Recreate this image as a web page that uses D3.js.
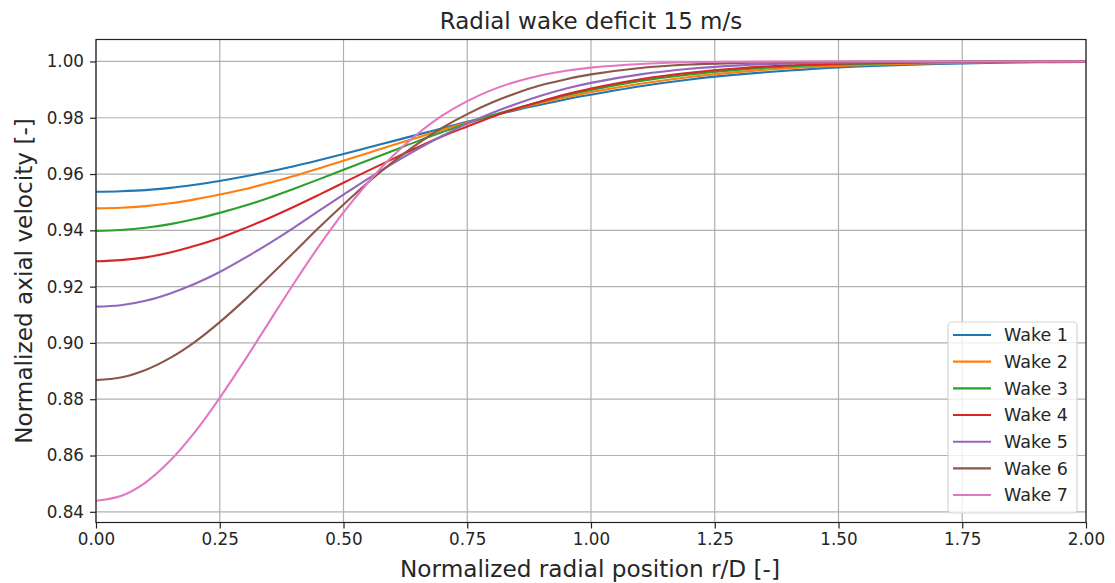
<!DOCTYPE html>
<html>
<head>
<meta charset="utf-8">
<script src="https://cdn.jsdelivr.net/npm/d3@7"></script>
<style>
  html, body { margin: 0; padding: 0; background: #fff; }
  text { font-family: "DejaVu Sans", sans-serif; fill: #262626; }
</style>
</head>
<body>
<svg id="chart" width="1115" height="583"></svg>
<script>
const radius = [0,0.05,0.1,0.15,0.2,0.25,0.3,0.35,0.4,0.45,0.5,0.55,0.6,0.65,0.7,0.75,0.8,0.85,0.9,0.95,1.0,1.1,1.2,1.3,1.4,1.5,1.6,1.7,1.8,1.9,2.0];
const wake1 = [0.9537,0.9539,0.9543,0.9551,0.9562,0.9575,0.9591,0.9609,0.9628,0.9649,0.9671,0.9694,0.9717,0.9740,0.9763,0.9786,0.9807,0.9828,0.9847,0.9866,0.9882,0.9912,0.9936,0.9954,0.9968,0.9979,0.9986,0.9991,0.9995,0.9997,0.9998];
const wake2 = [0.9478,0.9480,0.9486,0.9496,0.9510,0.9527,0.9546,0.9569,0.9593,0.9620,0.9647,0.9675,0.9703,0.9730,0.9757,0.9783,0.9808,0.9831,0.9853,0.9873,0.9891,0.9921,0.9945,0.9963,0.9976,0.9984,0.9990,0.9994,0.9997,0.9998,0.9999];
const wake3 = [0.9398,0.9401,0.9409,0.9422,0.9440,0.9462,0.9487,0.9516,0.9548,0.9581,0.9615,0.9649,0.9683,0.9717,0.9749,0.9780,0.9808,0.9834,0.9858,0.9880,0.9899,0.9931,0.9954,0.9971,0.9982,0.9989,0.9994,0.9997,0.9998,0.9999,1.0000];
const wake4 = [0.9290,0.9294,0.9304,0.9321,0.9345,0.9373,0.9407,0.9444,0.9484,0.9526,0.9569,0.9612,0.9654,0.9695,0.9734,0.9769,0.9803,0.9833,0.9859,0.9883,0.9904,0.9937,0.9960,0.9976,0.9986,0.9992,0.9996,0.9998,0.9999,0.9999,1.0000];
const wake5 = [0.9129,0.9134,0.9150,0.9176,0.9210,0.9252,0.9301,0.9354,0.9410,0.9469,0.9527,0.9584,0.9638,0.9689,0.9736,0.9779,0.9817,0.9850,0.9879,0.9904,0.9924,0.9954,0.9974,0.9986,0.9993,0.9996,0.9998,0.9999,1.0000,1.0000,1.0000];
const wake6 = [0.8868,0.8877,0.8904,0.8947,0.9004,0.9074,0.9152,0.9236,0.9322,0.9409,0.9492,0.9571,0.9643,0.9708,0.9765,0.9813,0.9854,0.9888,0.9916,0.9937,0.9954,0.9977,0.9989,0.9995,0.9998,0.9999,1.0000,1.0000,1.0000,1.0000,1.0000];
const wake7 = [0.8439,0.8456,0.8504,0.8582,0.8684,0.8805,0.8937,0.9075,0.9212,0.9343,0.9464,0.9571,0.9665,0.9743,0.9808,0.9859,0.9899,0.9929,0.9951,0.9967,0.9978,0.9991,0.9997,0.9999,1.0000,1.0000,1.0000,1.0000,1.0000,1.0000,1.0000];
const seriesNames = ["Wake 1","Wake 2","Wake 3","Wake 4","Wake 5","Wake 6","Wake 7"];
const seriesValues = [wake1, wake2, wake3, wake4, wake5, wake6, wake7];
const colors = ["#1f77b4","#ff7f0e","#2ca02c","#d62728","#9467bd","#8c564b","#e377c2"];
const xTicks = [0,0.25,0.5,0.75,1.0,1.25,1.5,1.75,2.0];
const yTicks = [0.84,0.86,0.88,0.90,0.92,0.94,0.96,0.98,1.00];
const titleText = "Radial wake deficit 15 m/s";
const xLabel = "Normalized radial position r/D [-]";
const yLabel = "Normalized axial velocity [-]";

const svg = d3.select("#chart");
const L = 96, R = 1086, T = 39.5, B = 522.5;
const x = d3.scaleLinear().domain([0, 2]).range([L, R]);
const y = d3.scaleLinear().domain([0.83620, 1.00780]).range([B, T]);

// grid
const g = svg.append("g");
g.selectAll(".gx").data(xTicks).enter().append("line")
  .attr("x1", d => x(d)).attr("x2", d => x(d)).attr("y1", T).attr("y2", B)
  .attr("stroke", "#b0b0b0").attr("stroke-width", 1.2);
g.selectAll(".gy").data(yTicks).enter().append("line")
  .attr("y1", d => y(d)).attr("y2", d => y(d)).attr("x1", L).attr("x2", R)
  .attr("stroke", "#b0b0b0").attr("stroke-width", 1.2);

// clip
svg.append("clipPath").attr("id", "clip").append("rect")
  .attr("x", L).attr("y", T).attr("width", R - L).attr("height", B - T);

const line = d3.line().x(d => x(d[0])).y(d => y(d[1])).curve(d3.curveCatmullRom.alpha(0.5));
const lines = svg.append("g").attr("clip-path", "url(#clip)");
seriesValues.forEach((vals, i) => {
  lines.append("path")
    .datum(radius.map((r, j) => [r, vals[j]]))
    .attr("fill", "none").attr("stroke", colors[i]).attr("stroke-width", 2.1)
    .attr("d", line);
});

// axes
const xAxis = d3.axisBottom(x).tickValues(xTicks).tickFormat(d3.format(".2f")).tickSize(6).tickPadding(5);
const yAxis = d3.axisLeft(y).tickValues(yTicks).tickFormat(d3.format(".2f")).tickSize(6).tickPadding(6);
const gx = svg.append("g").attr("transform", `translate(0,${B})`).call(xAxis);
const gy = svg.append("g").attr("transform", `translate(${L},0)`).call(yAxis);
[gx, gy].forEach(a => {
  a.select(".domain").remove();
  a.selectAll(".tick line").attr("stroke", "#222").attr("stroke-width", 1.2);
  a.selectAll(".tick text").attr("font-family", "DejaVu Sans").attr("font-size", 16.8).attr("fill", "#262626");
});

// spines
svg.append("rect").attr("x", L).attr("y", T).attr("width", R - L).attr("height", B - T)
  .attr("fill", "none").attr("stroke", "#222").attr("stroke-width", 1.2);

// title & labels
svg.append("text").attr("x", (L + R) / 2).attr("y", 29).attr("text-anchor", "middle")
  .attr("font-size", 23).text(titleText);
svg.append("text").attr("x", (L + R) / 2 - 1).attr("y", 577).attr("text-anchor", "middle")
  .attr("font-size", 23.2).text(xLabel);
svg.append("text").attr("transform", `translate(32,${(T + B) / 2}) rotate(-90)`).attr("text-anchor", "middle")
  .attr("font-size", 23.2).text(yLabel);

// legend
const lg = svg.append("g");
lg.append("rect").attr("x", 948).attr("y", 322).attr("width", 129).attr("height", 191)
  .attr("rx", 4).attr("fill", "#fff").attr("fill-opacity", 0.8).attr("stroke", "#d6d6d6").attr("stroke-width", 1.2);
seriesNames.forEach((name, i) => {
  const yy = 335 + i * 26.67;
  lg.append("line").attr("x1", 953).attr("x2", 991).attr("y1", yy).attr("y2", yy)
    .attr("stroke", colors[i]).attr("stroke-width", 2.1);
  lg.append("text").attr("x", 1004).attr("y", yy).attr("dy", "0.36em")
    .attr("font-size", 17.5).text(name);
});
</script>
</body>
</html>
